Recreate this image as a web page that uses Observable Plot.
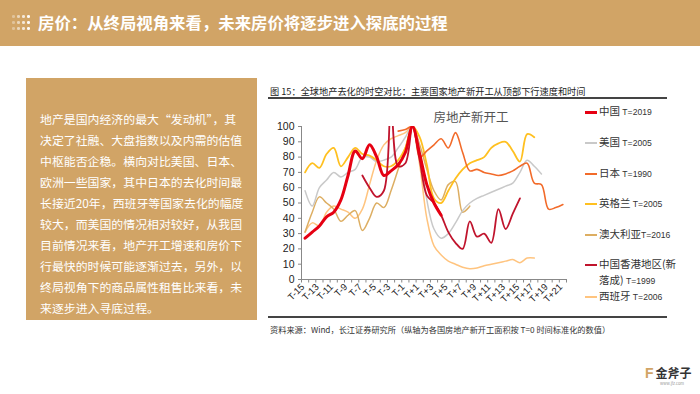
<!DOCTYPE html>
<html><head><meta charset="utf-8">
<script src="https://cdn.jsdelivr.net/npm/d3@7"></script>
<script src="https://cdn.jsdelivr.net/npm/@observablehq/plot@0.6"></script>
<style>
body{margin:0;width:700px;height:394px;position:relative;overflow:hidden;background:#fff;font-family:"Noto Sans CJK SC","Noto Sans",sans-serif;}
.bar{position:absolute;left:0;top:0;width:700px;height:46px;background:#D1A466;}
.dots{position:absolute;left:12px;top:15px;width:20px;height:18px;}
.dot{position:absolute;width:2.6px;height:2.6px;border-radius:50%;background:#fff;}
.title{position:absolute;left:38px;top:9px;color:#fff;font-weight:bold;font-size:16.4px;line-height:26px;white-space:nowrap;}
.box{position:absolute;left:26px;top:78px;width:231px;height:242px;background:#D1A466;}
.para{position:absolute;left:40px;top:108px;width:212px;color:#fff;font-size:11.9px;line-height:21px;}
.para div{white-space:nowrap;height:21px;}
.ctitle{position:absolute;left:270px;top:84px;font-size:9.2px;color:#222;white-space:nowrap;}
.rule{position:absolute;left:268px;width:399px;background:#444;}
.src{position:absolute;left:270px;top:323px;font-size:8.2px;color:#333;white-space:nowrap;}
#chart{position:absolute;left:262px;top:100px;}
.leg{position:absolute;left:585px;font-size:10.5px;color:#333;white-space:nowrap;line-height:14px;}
.leg .sw{display:inline-block;width:12px;vertical-align:middle;margin-right:2px;}
.leg .t{font-family:"Liberation Sans Narrow","Liberation Sans",sans-serif;font-size:8.6px;}
.logo{position:absolute;left:645px;top:364px;font-size:12px;font-weight:bold;color:#333;white-space:nowrap;}
.logo .f{color:#D1A466;font-family:"Liberation Sans",sans-serif;font-size:14px;margin-right:2px;}
.logo .u{position:absolute;left:15px;top:16px;font-size:4px;color:#999;font-weight:normal;}
</style></head>
<body>
<div class="bar"></div>
<div class="dots" id="dots"></div>
<div class="title">房价：从终局视角来看，未来房价将逐步进入探底的过程</div>
<div class="box"></div>
<div class="para" id="para"></div>
<div class="ctitle">图 15：全球地产去化的时空对比：主要国家地产新开工从顶部下行速度和时间</div>
<div class="rule" style="top:97px;height:2px;"></div>
<div id="chart"></div>
<div class="rule" style="top:316px;height:1.5px;"></div>
<div class="src">资料来源：Wind，长江证券研究所（纵轴为各国房地产新开工面积按 T=0 时间标准化的数值）</div>
<div id="legend"></div>
<div class="logo"><span class="f">F</span>金斧子<span class="u">www.jfz.com</span></div>
<script>
// ---- data ----
const periods = d3.range(-15, 22); // T-15 ... T+21
const periodLabels = periods.map(t => t < 0 ? `T${t}` : (t === 0 ? "T" : `T+${t}`));
const labeledPeriods = periods.filter(t => Math.abs(t) % 2 === 1);
const yTicks = d3.range(0, 101, 10);

const seriesNames = ["中国", "美国", "日本", "英格兰", "澳大利亚", "中国香港地区(新落成)", "西班牙"];
const seriesBase = ["T=2019", "T=2005", "T=1990", "T=2005", "T=2016", "T=1999", "T=2006"];
const _ = null;
//                T-15 -14 -13 -12 -11 -10  -9  -8  -7  -6  -5  -4  -3  -2  -1   0  +1  +2  +3  +4  +5  +6  +7  +8  +9 +10 +11 +12 +13 +14 +15 +16 +17 +18 +19 +20 +21
const china     = [27, 31, 35, 41, 44, 52, 68, 84, 79, 88, 80, 68, 71, 75, 83,100, 82, 62, 50, 42,  _,  _,  _,  _,  _,  _,  _,  _,  _,  _,  _,  _,  _,  _,  _,  _,  _];
const usa       = [58, 48, 60, 65, 70, 67, 70, 72, 80, 80, 77, 78, 80, 86, 93,100, 85, 52, 33, 27, 30, 37, 45, 50, 53, 55, 57, 59, 61, 63, 70, 78, 74, 69,  _,  _,  _];
const japan     = [ _,  _,  _,  _,  _,  _,  _,  _,  _,  _,  _,  _,  _, 97, 98,100, 80, 84, 88, 92, 86, 96, 83, 71, 72, 70, 69, 68, 69, 71, 74, 76, 63, 62, 46, 47, 49];
const england   = [70, 76, 73, 82, 86, 74, 80, 86, 82, 81, 78, 74, 74, 78, 86,100, 93, 75, 53, 50, 58, 66, 72, 76, 78, 80, 86, 89, 90, 84, 77, 95, 93,  _,  _,  _,  _];
const australia = [31, 44, 54, 50, 46, 38, 42, 45, 32, 40, 50, 47, 58, 72, 86,100, 88, 72, 58, 52, 62, 64, 44, 48,  _,  _,  _,  _,  _,  _,  _,  _,  _,  _,  _,  _,  _];
const hongkong  = [ _,  _,  _,  _,  _,  _,  _,  _, 68, 60, 54, 58,112, 74, 76,100, 78, 55, 50, 42, 31, 24, 20, 38, 28, 30, 24, 46, 33, 43, 53,  _,  _,  _,  _,  _,  _];
const spain     = [31, 37, 35, 44, 48, 46, 44, 40, 46, 62, 78, 88, 92, 94, 96,100, 75, 40, 22, 16, 12, 10,  8,  7,  7.5, 9, 10, 11, 12, 13, 11, 14, 14,  _,  _,  _,  _];

const seriesValues = [china, usa, japan, england, australia, hongkong, spain];

// ---- styles ----
const colors = ["#E60012", "#C9C9C9", "#F26B2A", "#FFC020", "#DDAE62", "#C0142D", "#FFC47F"];
const widths = [3, 1.5, 1.6, 1.8, 1.5, 1.8, 1.5];
const drawOrder = [6, 4, 1, 3, 2, 5, 0];

const rows = seriesValues.flatMap((vals, s) =>
  vals.map((v, i) => ({series: s, t: periods[i], v})).filter(d => d.v !== null));

// paragraph
const paraLines = [
  "地产是国内经济的最大“发动机”，其",
  "决定了社融、大盘指数以及内需的估值",
  "中枢能否企稳。横向对比美国、日本、",
  "欧洲一些国家，其中日本的去化时间最",
  "长接近20年，西班牙等国家去化的幅度",
  "较大，而美国的情况相对较好，从我国",
  "目前情况来看，地产开工增速和房价下",
  "行最快的时候可能逐渐过去，另外，以",
  "终局视角下的商品属性租售比来看，未",
  "来逐步进入寻底过程。"
];
document.getElementById("para").innerHTML = paraLines.map(l => `<div>${l}</div>`).join("");

// dots icon
const dotsEl = document.getElementById("dots");
for (let c = 0; c < 4; c++) for (let r = 0; r < 3; r++) {
  const d = document.createElement("div");
  d.className = "dot";
  d.style.left = (c * 5) + "px";
  d.style.top = (r * 6) + "px";
  d.style.opacity = (0.35 + c * 0.2).toFixed(2);
  dotsEl.appendChild(d);
}

const boundaries = d3.range(periods[0] - 0.5, periods[periods.length - 1] + 1, 1);

const lineMarks = drawOrder.map(s => Plot.line(rows.filter(d => d.series === s), {
  x: "t", y: "v", stroke: colors[s], strokeWidth: widths[s], curve: "catmull-rom", clip: true
}));

const chart = Plot.plot({
  width: 330, height: 215,
  marginLeft: 39, marginRight: 26, marginTop: 26, marginBottom: 36,
  style: {fontFamily: "'Liberation Sans', Arial, sans-serif", background: "transparent"},
  x: {type: "linear", domain: [boundaries[0], boundaries[boundaries.length - 1]], axis: null},
  y: {domain: [0, 100], axis: null},
  marks: [
    Plot.axisY({ticks: yTicks, tickSize: 3, tickPadding: 4, fontSize: 10.5, stroke: "#888", fill: "#222", tickFormat: d => d, label: null}),
    Plot.ruleX([boundaries[0]], {stroke: "#888"}),
    Plot.axisX({ticks: boundaries, tickSize: 3.5, tickFormat: () => "", stroke: "#888", label: null}),
    Plot.ruleY([0], {stroke: "#888"}),
    Plot.text(labeledPeriods, {
      x: d => d, frameAnchor: "bottom", text: d => periodLabels[periods.indexOf(d)],
      rotate: -45, textAnchor: "end", dy: 8, dx: 0, fontSize: 9.5, fill: "#222"
    }),
    ...lineMarks,
    Plot.text(["房地产新开工"], {frameAnchor: "top-left", dx: 132, dy: -13, textAnchor: "start",
      fontSize: 12.5, fill: "#555", fontFamily: "'Noto Sans CJK SC', sans-serif"})
  ]
});
document.getElementById("chart").appendChild(chart);

// legend
const legendY = [104, 135, 166, 196, 227, 256, 289];
const legendEl = document.getElementById("legend");
seriesNames.forEach((name, s) => {
  const div = document.createElement("div");
  div.className = "leg";
  div.style.top = legendY[s] + "px";
  const sw = `<span class="sw" style="height:${widths[s]}px;background:${colors[s]}"></span>`;
  if (s === 5) {
    div.innerHTML = `${sw}中国香港地区(新<br><span style="margin-left:14px">落成)</span> <span class="t">${seriesBase[s]}</span>`;
    div.style.lineHeight = "16px";
  } else {
    div.innerHTML = `${sw}${name}${s === 4 ? "" : " "}<span class="t">${seriesBase[s]}</span>`;
  }
  legendEl.appendChild(div);
});
</script>
</body></html>
